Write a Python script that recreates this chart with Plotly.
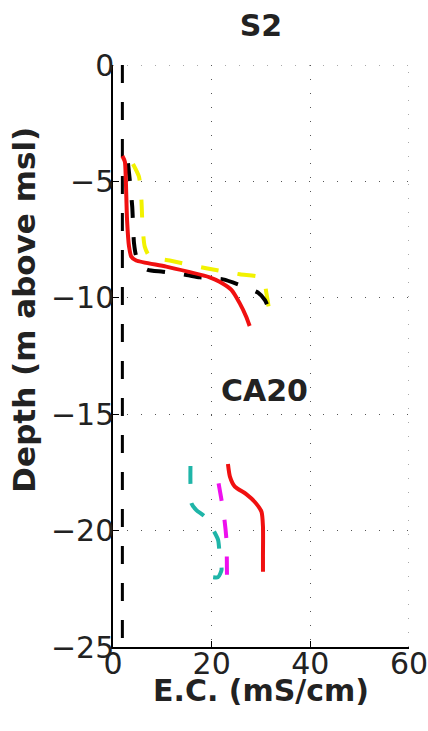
import plotly.graph_objects as go

# ---- data ----
ref_x = [1.9, 1.9]
ref_y = [0, -25]

s2_red_x = [1.9, 2.4, 2.6, 2.85, 3.25, 3.7, 4.7, 10.8, 19.6, 21.6, 24.0, 25.7, 27.0, 27.7]
s2_red_y = [-3.91, -4.15, -4.94, -6.66, -7.8, -8.23, -8.4, -8.66, -9.12, -9.31, -9.66, -10.24, -10.81, -11.21]

s2_black_x = [3.04, 3.4, 3.9, 4.26, 4.74, 6.8, 10.1, 14.9, 17.6, 22.3, 25.7, 29.4, 30.8, 31.4]
s2_black_y = [-4.22, -4.94, -6.09, -7.66, -8.23, -8.78, -8.88, -9.02, -9.12, -9.21, -9.45, -9.78, -10.1, -10.38]

s2_yellow_x = [4.05, 5.27, 5.76, 5.96, 6.43, 7.44, 11.5, 18.9, 25.7, 30.4, 31.1, 31.8]
s2_yellow_y = [-4.25, -4.8, -5.8, -6.8, -7.8, -8.23, -8.4, -8.73, -8.99, -9.16, -9.81, -10.74]

ca_red_x = [23.3, 23.7, 24.7, 27.0, 28.7, 30.1, 30.4, 30.4, 30.4]
ca_red_y = [-17.14, -17.68, -18.11, -18.43, -18.76, -19.19, -19.83, -21.12, -21.77]

ca_mag_x = [21.4, 22.0, 22.6, 23.0, 23.1]
ca_mag_y = [-17.97, -18.69, -19.54, -20.4, -21.91]

ca_teal_x = [15.7, 15.7, 15.9, 16.9, 18.6, 20.3, 21.3, 21.6, 22.0, 21.3, 20.3]
ca_teal_y = [-17.23, -17.97, -18.83, -19.12, -19.4, -19.97, -20.4, -20.97, -21.69, -22.0, -22.0]

x_ticks = [0, 20, 40, 60]
x_ticktext = ["0", "20", "40", "60"]
y_ticks = [0, -5, -10, -15, -20, -25]
y_ticktext = ["0", "\u22125", "\u221210", "\u221215", "\u221220", "\u221225"]

title_s2 = "S2"
label_ca20 = "CA20"
ca20_pos = (30.8, -14.0)
x_title = "E.C. (mS/cm)"
y_title = "Depth (m above msl)"

# ---- figure ----
DASH = "18px,19px"
GRID_DASH = "1px,13px"
GRID_COLOR = "#555"
fig = go.Figure()
fig.add_trace(go.Scatter(x=ref_x, y=ref_y, mode="lines",
                         line=dict(color="black", width=3, dash=DASH)))
fig.add_trace(go.Scatter(x=s2_yellow_x, y=s2_yellow_y, mode="lines",
                         line=dict(color="#f2f200", width=4, dash=DASH, shape="spline", smoothing=0.6)))
fig.add_trace(go.Scatter(x=s2_black_x, y=s2_black_y, mode="lines",
                         line=dict(color="black", width=4, dash=DASH, shape="spline", smoothing=0.6)))
fig.add_trace(go.Scatter(x=s2_red_x, y=s2_red_y, mode="lines",
                         line=dict(color="#f01010", width=4, shape="spline", smoothing=0.6)))
fig.add_trace(go.Scatter(x=ca_teal_x, y=ca_teal_y, mode="lines",
                         line=dict(color="#1fb5a8", width=4, dash=DASH, shape="spline", smoothing=0.6)))
fig.add_trace(go.Scatter(x=ca_mag_x, y=ca_mag_y, mode="lines",
                         line=dict(color="#ee10ee", width=4, dash=DASH, shape="spline", smoothing=0.6)))
fig.add_trace(go.Scatter(x=ca_red_x, y=ca_red_y, mode="lines",
                         line=dict(color="#f01010", width=4, shape="spline", smoothing=0.6)))

tickfont = dict(family="DejaVu Sans", size=30, color="#222")
axis_common = dict(showline=True, linecolor="black", linewidth=1.5, ticks="inside",
                   ticklen=6, tickcolor="black", tickwidth=1, showgrid=True,
                   gridcolor=GRID_COLOR, gridwidth=1, griddash=GRID_DASH,
                   zeroline=False, mirror=False, tickfont=tickfont, automargin=False,
                   ticklabeloverflow="allow")

fig.update_layout(
    width=428, height=731,
    margin=dict(l=113, r=19, t=65, b=84, autoexpand=False),
    paper_bgcolor="white", plot_bgcolor="white",
    showlegend=False,
    xaxis=dict(range=[0, 60], tickmode="array", tickvals=x_ticks, ticktext=x_ticktext,
               ticklabelstandoff=-11, **axis_common),
    yaxis=dict(range=[-25, 0], tickmode="array", tickvals=y_ticks, ticktext=y_ticktext,
               ticklabelstandoff=-9, **axis_common),
    title=dict(text=title_s2, xref="paper", x=0.5, xanchor="center", yref="container",
               y=1 - 25 / 731, yanchor="middle",
               font=dict(family="DejaVu Sans", size=30, color="#222", weight="bold")),
)
# grid lines at the outer edges (plotly drops grid lines lying on the plot border)
fig.add_shape(type="line", xref="x domain", yref="y", x0=0, x1=1, y0=y_ticks[0], y1=y_ticks[0],
              line=dict(color=GRID_COLOR, width=1, dash=GRID_DASH), layer="below")
fig.add_shape(type="line", xref="x", yref="y domain", x0=x_ticks[-1], x1=x_ticks[-1], y0=0, y1=1,
              line=dict(color=GRID_COLOR, width=1, dash=GRID_DASH), layer="below")

fig.add_annotation(x=ca20_pos[0], y=ca20_pos[1], text=label_ca20, showarrow=False,
                   xanchor="center", yanchor="middle",
                   font=dict(family="DejaVu Sans", size=30, color="#222", weight="bold"))
fig.add_annotation(xref="paper", yref="paper", x=0.5, y=-0.0756, text=x_title, showarrow=False,
                   xanchor="center", yanchor="middle",
                   font=dict(family="DejaVu Sans", size=30, color="#222", weight="bold"))
fig.add_annotation(xref="paper", yref="paper", x=-0.302, y=0.579, text=y_title, showarrow=False,
                   textangle=-90, xanchor="center", yanchor="middle",
                   font=dict(family="DejaVu Sans", size=31, color="#222", weight="bold"))

# remove the default 8px page margin so the 428x731 figure fills the window exactly
fig.write_html("out.html", config={"displayModeBar": False},
               post_script="document.body.style.margin='0';document.body.style.overflow='hidden';")
